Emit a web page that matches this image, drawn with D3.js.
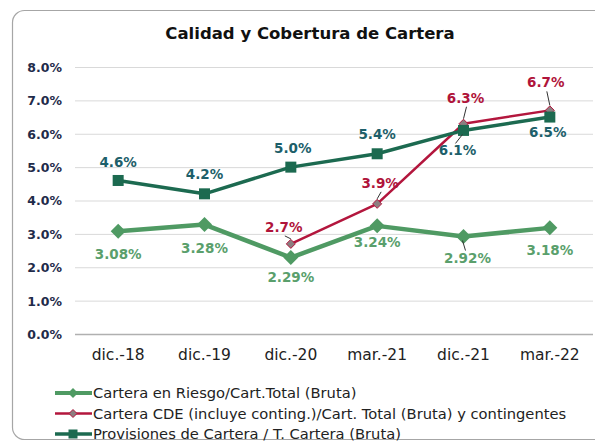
<!DOCTYPE html>
<html><head><meta charset="utf-8">
<script src="https://cdn.jsdelivr.net/npm/d3@7"></script>
<style>body{margin:0;background:#fff}svg{display:block}</style>
</head><body>
<svg id="c" width="595" height="443"></svg>
<script>
const categories = ["dic.-18","dic.-19","dic.-20","mar.-21","dic.-21","mar.-22"];
const riesgo = [3.08, 3.28, 2.29, 3.24, 2.92, 3.18];
const cde = [null, null, 2.7, 3.9, 6.3, 6.7];
const provisiones = [4.6, 4.2, 5.0, 5.4, 6.1, 6.5];
const yTicks = [0,1,2,3,4,5,6,7,8];
const seriesNames = ["Cartera en Riesgo/Cart.Total (Bruta)",
  "Cartera CDE (incluye conting.)/Cart. Total (Bruta) y contingentes",
  "Provisiones de Cartera / T. Cartera (Bruta)"];
const title = "Calidad y Cobertura de Cartera";

// label placement (dx, dy from point to label baseline center)
const offRiesgo = [[0,28],[0,28],[0,24],[0,21],[4,26],[0,27]];
const offCde = [[-7,-12],[0,0],[-7,-12],[3,-16],[2,-21],[-4,-23]];
const offProv = [[0,-13],[0,-15],[2,-14],[0,-15],[-6,25],[-2,20]];
const leadCde = [false,false,true,true,true,true];
const leadRiesgo = [false,false,false,false,true,false];
const leadProv = [false,false,false,false,true,false];

const svg = d3.select("#c");
svg.append("rect").attr("x",12.5).attr("y",10.5).attr("width",610).attr("height",429)
  .attr("rx",12).attr("fill","#fff").attr("stroke","#a6a6a6").attr("stroke-width",1.2);

svg.append("text").attr("x",310).attr("y",38.5).attr("text-anchor","middle")
  .attr("font-family","DejaVu Sans").attr("font-weight","bold").attr("font-size",16.5)
  .attr("fill","#111").text(title);

const x = d3.scaleBand().domain(categories).range([75,593]);
const y = d3.scaleLinear().domain([0,8]).range([334,67]);

const grid = svg.append("g");
grid.selectAll("line").data(yTicks).join("line")
  .attr("x1",75).attr("x2",593).attr("y1",d=>y(d)+0.5).attr("y2",d=>y(d)+0.5)
  .attr("stroke",d=>d===0?"#b0b0b0":"#d9d9d9").attr("stroke-width",d=>d===0?1.5:1);

const yAxis = svg.append("g").attr("transform","translate(62,0)")
  .call(d3.axisLeft(y).tickValues(yTicks).tickSize(0).tickFormat(d=>d3.format(".1f")(d)+"%"));
yAxis.select(".domain").remove();
yAxis.selectAll("text").attr("font-family","DejaVu Sans").attr("font-weight","bold")
  .attr("font-size",12.5).attr("fill","#1f2b4a").attr("dx",0).attr("dy","0.35em").attr("x",0);

const xAxis = svg.append("g").attr("transform","translate(0,334)")
  .call(d3.axisBottom(x).tickSize(0));
xAxis.select(".domain").remove();
xAxis.selectAll("text").attr("font-family","DejaVu Sans").attr("font-size",15.5)
  .attr("fill","#222").attr("y",21).attr("dy","0.35em");

const cx = (i)=>x(categories[i])+x.bandwidth()/2;

function drawSeries(vals, color, width, marker){
  const pts = vals.map((v,i)=>({v,i})).filter(d=>d.v!==null);
  const line = d3.line().x(d=>cx(d.i)).y(d=>y(d.v));
  svg.append("path").datum(pts).attr("d",line).attr("fill","none")
    .attr("stroke",color).attr("stroke-width",width).attr("stroke-linejoin","round");
  const g = svg.append("g");
  pts.forEach(d=>{ marker(g, cx(d.i), y(d.v)); });
}
function drawLabels(vals, fmt, lblColor, offs, leads){
  vals.forEach((v,i)=>{
    if(v===null) return;
    const px=cx(i), py=y(v), lx=px+offs[i][0], ly=py+offs[i][1];
    if(leads[i]){
      const down = offs[i][1]>0;
      svg.append("line").attr("x1",px+(down?-1:0)).attr("y1",py+(down?4:-5))
        .attr("x2",lx+(down?-2:1)).attr("y2",down?ly-12:ly+4)
        .attr("stroke","#333").attr("stroke-width",1);
    }
    svg.append("text").attr("x",lx).attr("y",ly).attr("text-anchor","middle")
      .attr("font-family","DejaVu Sans").attr("font-weight","bold").attr("font-size",13.5)
      .attr("fill",lblColor).text(fmt(v));
  });
}
const diamond = (s,fill,stroke,sw)=> (g,px,py)=>g.append("path")
  .attr("d",`M${px},${py-s}L${px+s},${py}L${px},${py+s}L${px-s},${py}Z`)
  .attr("fill",fill).attr("stroke",stroke).attr("stroke-width",sw);
const square = (s,fill)=> (g,px,py)=>g.append("rect").attr("x",px-s).attr("y",py-s)
  .attr("width",2*s).attr("height",2*s).attr("fill",fill);

const cG = "#4f9a63", cR = "#b3163d", cD = "#1c6a50";
drawSeries(riesgo, cG, 4.5, diamond(7.5,cG,"none",0));
drawSeries(cde, cR, 2.5, diamond(4.5,"#8c7e80",cR,1));
drawSeries(provisiones, cD, 3.5, square(5.5,cD));

drawLabels(riesgo, v=>d3.format(".2f")(v)+"%", "#5a9f6c", offRiesgo, leadRiesgo);
drawLabels(cde, v=>d3.format(".1f")(v)+"%", "#b0143a", offCde, leadCde);
drawLabels(provisiones, v=>d3.format(".1f")(v)+"%", "#1d5f6a", offProv, leadProv);

// legend
const leg = svg.append("g");
const legMarkers = [diamond(5,cG,"none",0), diamond(4,"#8c7e80",cR,1), square(4.5,cD)];
const legColors = [cG,cR,cD], legW=[4,2.5,3.5];
seriesNames.forEach((n,i)=>{
  const ly = 393 + i*20.5;
  leg.append("line").attr("x1",55).attr("x2",92).attr("y1",ly).attr("y2",ly)
    .attr("stroke",legColors[i]).attr("stroke-width",legW[i]);
  legMarkers[i](leg,73,ly);
  leg.append("text").attr("x",93).attr("y",ly).attr("dy","0.35em")
    .attr("font-family","DejaVu Sans").attr("font-size",14.7).attr("fill","#222").text(n);
});
</script>
</body></html>
